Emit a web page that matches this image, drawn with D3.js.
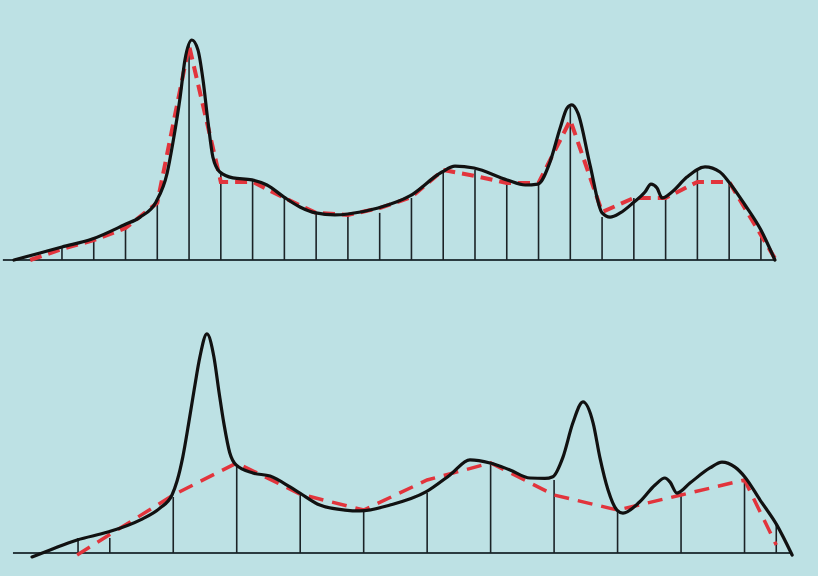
<!DOCTYPE html>
<html>
<head>
<meta charset="utf-8">
<script src="https://cdn.jsdelivr.net/npm/d3@7"></script>
<style>
  html, body { margin: 0; padding: 0; background: #bde1e4; }
  svg { display: block; }
</style>
</head>
<body>
<script>
// t = sample time, a = amplitude (peak = 10)

// top panel: continuous signal
const topSignal = [
  [-0.51, 0], [0.31, 0.32], [1.0, 0.59], [1.95, 0.95], [2.95, 1.59], [3.46, 1.95],
  [3.96, 2.64], [4.31, 3.95], [4.49, 5.32], [4.72, 7.41], [4.87, 9.09], [5.09, 10],
  [5.28, 9.55], [5.44, 8.18], [5.6, 6.23], [5.75, 4.68], [5.97, 4.0], [6.38, 3.73],
  [6.98, 3.64], [7.45, 3.41], [7.99, 2.86], [8.49, 2.41], [8.99, 2.14], [9.59, 2.05],
  [10.0, 2.09], [10.95, 2.36], [11.95, 2.91], [12.96, 4.0], [13.37, 4.27], [13.97, 4.18],
  [15.01, 3.64], [15.58, 3.41], [15.98, 3.45], [16.36, 4.45], [16.68, 6.0], [16.9, 6.91],
  [17.05, 7.05], [17.24, 6.68], [17.62, 4.32], [18.0, 2.14], [18.25, 1.95], [18.57, 2.14],
  [18.97, 2.59], [19.35, 3.09], [19.54, 3.45], [19.73, 3.27], [19.89, 2.82], [20.2, 3.09],
  [20.67, 3.77], [21.24, 4.23], [21.71, 4.0], [21.99, 3.55], [22.5, 2.5], [23.0, 1.36],
  [23.44, 0]
];
// top panel: sample stems (t = 1..23)
const topSampleT = d3.range(1, 24);
const topSampleA = [0.57, 0.9, 1.55, 2.6, 9.8, 4.0, 3.6, 2.82, 2.14, 2.05, 2.14, 2.82,
  4.09, 4.09, 3.5, 3.5, 6.95, 1.95, 2.82, 2.82, 4.09, 3.5, 1.36];
// top panel: reconstruction (red dashed)
const topRecon = [
  [0, 0], [1, 0.5], [2, 0.9], [3, 1.45], [4, 2.6], [5, 9.75], [6, 3.55], [7, 3.55],
  [8, 2.82], [9, 2.14], [10, 2.05], [11, 2.36], [12, 2.86], [13, 4.09], [14, 3.82],
  [15, 3.5], [16, 3.5], [17, 6.36], [18, 2.18], [19, 2.82], [20, 2.82], [21, 3.55],
  [22, 3.55], [23, 1.14], [23.47, 0]
];

// bottom panel: continuous signal
const botSignal = [
  [-0.45, -0.18], [0.12, 0.14], [0.97, 0.6], [1.94, 0.96], [2.95, 1.51], [3.58, 2.06],
  [3.96, 2.66], [4.12, 3.3], [4.3, 4.4], [4.48, 5.9], [4.66, 7.5], [4.84, 9.0],
  [5.06, 10.05], [5.28, 9.0], [5.44, 7.4], [5.6, 5.9], [5.78, 4.6], [5.98, 4.04],
  [6.51, 3.67], [7.05, 3.53], [7.68, 3.03],
  [7.99, 2.75], [8.62, 2.2], [9.41, 1.97], [9.88, 1.93], [10.83, 2.2], [11.96, 2.8],
  [12.72, 3.58], [13.35, 4.27], [13.98, 4.13], [14.61, 3.81], [15.24, 3.44], [15.71, 3.42],
  [15.96, 3.5], [16.28, 4.4], [16.59, 5.96], [16.91, 6.93], [17.23, 5.96], [17.44, 4.4],
  [17.7, 2.89], [17.98, 1.97], [18.17, 1.83], [18.7, 2.35], [19.18, 3.12], [19.49, 3.44],
  [19.65, 3.26], [19.87, 2.75], [20.28, 3.21], [20.91, 3.9], [21.29, 4.17], [21.7, 3.94],
  [22.01, 3.49], [22.49, 2.43], [23.02, 1.28], [23.5, -0.09]
];
// bottom panel: sample stems (every second sample)
const botSampleT = [1, 2, 4, 6, 8, 10, 12, 14, 16, 18, 20, 22, 23];
const botSampleA = [0.69, 0.69, 2.57, 4.04, 2.66, 1.97, 2.75, 4.13, 3.35, 1.97, 2.75, 3.44, 1.38];
// bottom panel: reconstruction (red dashed)
const botRecon = [
  [0.97, -0.09], [4, 2.66], [6, 4.13], [8, 2.7], [10, 1.97], [12, 3.35], [14, 4.13],
  [16, 2.66], [18, 1.97], [20, 2.66], [22, 3.35], [23, 0.37]
];

const W = 818, H = 576;
const svg = d3.select('body').append('svg')
  .attr('width', W)
  .attr('height', H);

svg.append('rect')
  .attr('width', W).attr('height', H)
  .attr('fill', '#bde1e4');

function drawPanel(opt) {
  const x = d3.scaleLinear().domain([0, 24]).range(opt.xRange);
  const y = d3.scaleLinear().domain([0, 10]).range(opt.yRange);
  const g = svg.append('g');

  // baseline
  g.append('line')
    .attr('x1', x(opt.axisExtent[0])).attr('x2', x(opt.axisExtent[1]))
    .attr('y1', y(0)).attr('y2', y(0))
    .attr('stroke', '#2b3b40')
    .attr('stroke-width', 2);

  // sample stems
  g.selectAll('line.stem')
    .data(opt.sampleT.map((t, i) => [t, opt.sampleA[i]]))
    .join('line')
    .attr('class', 'stem')
    .attr('x1', d => x(d[0])).attr('x2', d => x(d[0]))
    .attr('y1', y(0)).attr('y2', d => y(d[1]))
    .attr('stroke', '#1b2226')
    .attr('stroke-width', 1.6);

  // red reconstruction
  g.append('path')
    .datum(opt.recon)
    .attr('fill', 'none')
    .attr('stroke', '#e2343c')
    .attr('stroke-width', opt.redWidth)
    .attr('stroke-dasharray', opt.dash)
    .attr('d', d3.line().x(d => x(d[0])).y(d => y(d[1])));

  // black signal
  g.append('path')
    .datum(opt.signal)
    .attr('fill', 'none')
    .attr('stroke', '#111')
    .attr('stroke-width', 3.2)
    .attr('stroke-linecap', 'round')
    .attr('stroke-linejoin', 'round')
    .attr('d', d3.line().curve(d3.curveMonotoneX).x(d => x(d[0])).y(d => y(d[1])));
}

drawPanel({
  xRange: [30.2, 792.7], yRange: [260, 40], axisExtent: [-0.86, 23.47],
  signal: topSignal, sampleT: topSampleT, sampleA: topSampleA, recon: topRecon,
  redWidth: 4, dash: '12,7'
});

drawPanel({
  xRange: [46.3, 808], yRange: [553, 335], axisExtent: [-1.05, 23.5],
  signal: botSignal, sampleT: botSampleT, sampleA: botSampleA, recon: botRecon,
  redWidth: 3.5, dash: '15,9'
});
</script>
</body>
</html>
